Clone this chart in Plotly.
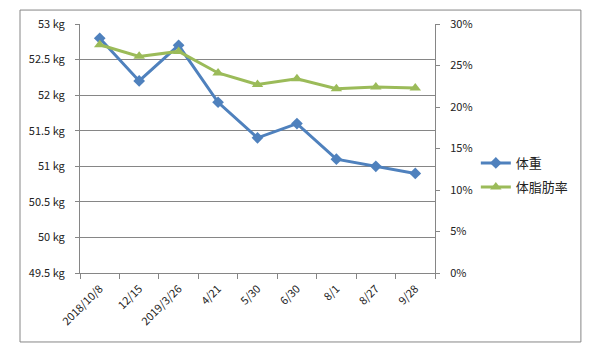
import plotly.graph_objects as go

dates = ["2018/10/8", "12/15", "2019/3/26", "4/21", "5/30", "6/30", "8/1", "8/27", "9/28"]
weight = [52.8, 52.2, 52.7, 51.9, 51.4, 51.6, 51.1, 51.0, 50.9]
fat = [27.5, 26.1, 26.7, 24.1, 22.7, 23.4, 22.2, 22.4, 22.3]
kg_ticks = [49.5, 50, 50.5, 51, 51.5, 52, 52.5, 53]
kg_labels = ["49.5 kg", "50 kg", "50.5 kg", "51 kg", "51.5 kg", "52 kg", "52.5 kg", "53 kg"]
pct_ticks = [0, 5, 10, 15, 20, 25, 30]
pct_labels = ["0%", "5%", "10%", "15%", "20%", "25%", "30%"]

BLUE = "#4F81BD"
GREEN = "#9BBB59"
GRAY = "#868686"
FONT = "Noto Sans CJK JP"

fig = go.Figure()
fig.add_trace(go.Scatter(x=dates, y=weight, name="体重", mode="lines+markers",
                         line=dict(color=BLUE, width=3),
                         marker=dict(symbol="diamond", size=9, color=BLUE),
                         legend="legend"))
fig.add_trace(go.Scatter(x=dates, y=fat, name="体脂肪率", mode="lines+markers", yaxis="y2",
                         line=dict(color=GREEN, width=3),
                         marker=dict(symbol="triangle-up", size=10, color=GREEN),
                         legend="legend2"))

leg_common = dict(xanchor="left", yanchor="middle",
                  font=dict(family=FONT, size=13, color="#222222"),
                  bgcolor="rgba(0,0,0,0)", itemwidth=30)

fig.update_layout(
    width=594, height=354,
    margin=dict(l=72, r=167, t=16, b=89, autoexpand=False),
    paper_bgcolor="white", plot_bgcolor="white",
    font=dict(family=FONT, size=11, color="#222222"),
    xaxis=dict(type="category", tickangle=-45, tickson="boundaries",
               ticks="outside", ticklen=5, tickcolor=GRAY,
               showline=True, linecolor=GRAY, linewidth=1,
               showgrid=False, range=[-0.5, 8.5], ticklabelstandoff=4),
    yaxis=dict(range=[49.5, 53], tickvals=kg_ticks, ticktext=kg_labels,
               showgrid=True, gridcolor=GRAY, gridwidth=1,
               ticks="outside", ticklen=4, tickcolor=GRAY,
               showline=True, linecolor=GRAY, linewidth=1,
               zeroline=False, ticklabelstandoff=8),
    yaxis2=dict(range=[0, 30], tickvals=pct_ticks, ticktext=pct_labels,
                overlaying="y", side="right", showgrid=False,
                ticks="outside", ticklen=4, tickcolor=GRAY,
                showline=True, linecolor=GRAY, linewidth=1,
                zeroline=False, ticklabelstandoff=8),
    legend=dict(x=1.115, y=0.442, **leg_common),
    legend2=dict(x=1.115, y=0.345, **leg_common),
    showlegend=True,
    shapes=[dict(type="rect", xref="paper", yref="paper",
                 x0=-0.169, x1=1.411, y0=-0.277, y1=1.056,
                 line=dict(color=GRAY, width=1), layer="below")],
)

fig.write_html("out.html")
